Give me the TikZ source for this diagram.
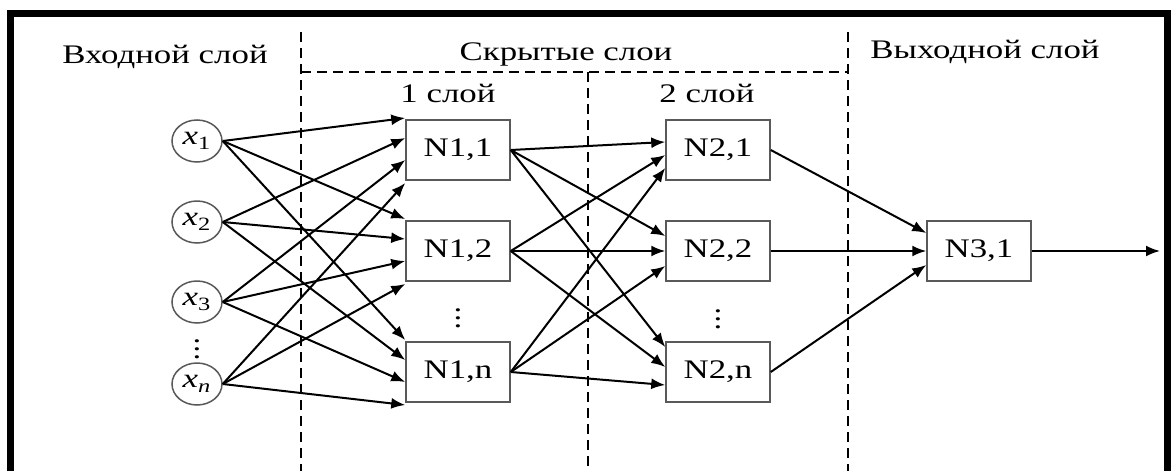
\documentclass[tikz,border=0pt]{standalone}
\usepackage{fontspec}
\setmainfont{Liberation Serif}[FakeStretch=1.3]
\usetikzlibrary{arrows.meta,shapes.geometric}
\begin{document}
\begin{tikzpicture}[x=0.5pt,y=-0.5pt,
  every node/.style={font=\fontsize{13.4}{16}\selectfont},
  neuron/.style={draw=black!65, line width=0.75pt, minimum width=52pt, minimum height=30pt, inner sep=0pt},
  inp/.style={ellipse, draw=black!65, line width=0.75pt, minimum width=25pt, minimum height=21pt, inner sep=0pt},
  dots/.style={inner sep=0pt},
  conn/.style={line width=1pt, -{Latex[length=7pt,width=5.5pt]}},
  sep/.style={line width=0.9pt, dash pattern=on 5pt off 3pt},
  frame/.style={line width=3.5pt}
]
\useasboundingbox (0,0) rectangle (1171,471);
% frame
\draw[frame] (10.5,471) -- (10.5,13.5) -- (1167,13.5) -- (1167,471);
% separators
\draw[sep] (301,32) -- (301,471);
\draw[sep] (301,72) -- (848,72);
\draw[sep] (588,72) -- (588,471);
\draw[sep] (848,32) -- (848,471);
% labels
\node[anchor=base] (lin) at (165,63) {Входной слой};
\node[anchor=base] (lhid) at (566,60) {Скрытые слои};
\node[anchor=base] (lout) at (985,58) {Выходной слой};
\node[anchor=base] (l1) at (448,102) {1 слой};
\node[anchor=base] (l2) at (707,102) {2 слой};
% inputs
\node[inp] (x1) at (197,141) {\textit{x}\textsubscript{1}};
\node[inp] (x2) at (197,222) {\textit{x}\textsubscript{2}};
\node[inp] (x3) at (197,302) {\textit{x}\textsubscript{3}};
\node[dots] (dx) at (197,343) {$\vdots$};
\node[inp] (xn) at (197,384) {\textit{x}\textsubscript{\textit{n}}};
% layer 1
\node[neuron] (N11) at (458,150) {N1,1};
\node[neuron] (N12) at (458,251) {N1,2};
\node[dots] (d1) at (458,312) {$\vdots$};
\node[neuron] (N1n) at (458,372) {N1,n};
% layer 2
\node[neuron] (N21) at (718,150) {N2,1};
\node[neuron] (N22) at (718,251) {N2,2};
\node[dots] (d2) at (718,313) {$\vdots$};
\node[neuron] (N2n) at (718,372) {N2,n};
% output
\node[neuron] (N31) at (979,251) {N3,1};
\coordinate (out) at (1160,251);
% connections input -> layer 1
\foreach \s/\dy in {x1/-32, x2/-12, x3/10, xn/33} {
  \foreach \t in {N11,N12,N1n} {
    \draw[conn] (\s.east) -- ([yshift={-0.5pt*(\dy)}]\t.west);
  }
}
% layer 1 -> layer 2
\foreach \t/\a/\b/\c in {N21/-8/5/18, N22/-15/0/15, N2n/-25/-5/13} {
  \draw[conn] (N11.east) -- ([yshift={-0.5pt*(\a)}]\t.west);
  \draw[conn] (N12.east) -- ([yshift={-0.5pt*(\b)}]\t.west);
  \draw[conn] (N1n.east) -- ([yshift={-0.5pt*(\c)}]\t.west);
}
% layer 2 -> output
\draw[conn] (N21.east) -- ([yshift=9pt]N31.west);
\draw[conn] (N22.east) -- (N31.west);
\draw[conn] (N2n.east) -- ([yshift=-7pt]N31.west);
\draw[conn] (N31.east) -- (out);
\end{tikzpicture}
\end{document}
